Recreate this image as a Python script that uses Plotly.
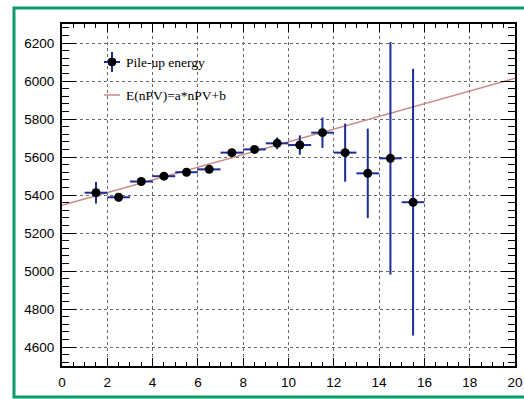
import plotly.graph_objects as go

# ---- data ----
npv = [1.5, 2.5, 3.5, 4.5, 5.5, 6.5, 7.5, 8.5, 9.5, 10.5, 11.5, 12.5, 13.5, 14.5, 15.5]
energy = [5412, 5388, 5471, 5499, 5520, 5535, 5623, 5640, 5672, 5663, 5728, 5623, 5514, 5593, 5362]
energy_err = [57, 22, 14, 12, 12, 12, 12, 12, 31, 51, 80, 153, 235, 612, 702]
npv_err = [0.5] * len(npv)

fit_x = [0, 20]
fit_y = [5346, 6014]

x_ticks = [0, 2, 4, 6, 8, 10, 12, 14, 16, 18, 20]
y_ticks = [4600, 4800, 5000, 5200, 5400, 5600, 5800, 6000, 6200]

legend_labels = ["Pile-up energy", "E(nPV)=a*nPV+b"]

# ---- styling ----
W, H = 524, 399
L, R, T, B = 62, 9, 24, 33
PW, PH = W - L - R, H - T - B
ERR_COLOR = "#1c2d9a"
FIT_COLOR = "#c98a86"
GREEN = "#0b9b6c"


def px(xp):
    return (xp - L) / PW


def py(yp):
    return 1 - (yp - T) / PH


fig = go.Figure()

fig.add_trace(go.Scatter(
    x=fit_x, y=fit_y, mode="lines",
    line=dict(color=FIT_COLOR, width=1.5),
    showlegend=False, hoverinfo="skip",
))

fig.add_trace(go.Scatter(
    x=npv, y=energy, mode="markers",
    marker=dict(color="black", size=9),
    error_x=dict(type="data", array=npv_err, color=ERR_COLOR, thickness=2, width=0),
    error_y=dict(type="data", array=energy_err, color=ERR_COLOR, thickness=2, width=0),
    showlegend=False,
))

axis_font = dict(family="Liberation Sans, Arial, sans-serif", size=13.5, color="black")

fig.update_xaxes(
    range=[0, 20], tickvals=x_ticks, ticktext=[str(v) for v in x_ticks],
    showline=True, linecolor="black", linewidth=2, mirror="allticks",
    ticks="inside", ticklen=8, tickwidth=1, tickcolor="black",
    minor=dict(ticks="inside", ticklen=4, dtick=0.5, tickcolor="black", showgrid=False),
    showgrid=True, gridcolor="#666666", griddash="dot", gridwidth=1,
    zeroline=False, tickfont=axis_font, ticklabelstandoff=3, automargin=False,
)
fig.update_yaxes(
    range=[4500, 6300], tickvals=y_ticks, ticktext=[str(v) for v in y_ticks],
    showline=True, linecolor="black", linewidth=2, mirror="allticks",
    ticks="inside", ticklen=14, tickwidth=1, tickcolor="black",
    minor=dict(ticks="inside", ticklen=7, dtick=40, tick0=4600, tickcolor="black", showgrid=False),
    showgrid=True, gridcolor="#666666", griddash="dot", gridwidth=1,
    zeroline=False, tickfont=axis_font, ticklabelstandoff=3, automargin=False,
)

shapes = []
# outer green frame (right edge lies outside the picture)
shapes.append(dict(type="rect", xref="paper", yref="paper",
                   x0=px(14), x1=px(528), y0=py(397), y1=py(8),
                   line=dict(color=GREEN, width=3), layer="below"))
# legend: marker with error cross
shapes.append(dict(type="line", xref="paper", yref="paper",
                   x0=px(104), x1=px(120), y0=py(62), y1=py(62),
                   line=dict(color=ERR_COLOR, width=2)))
shapes.append(dict(type="line", xref="paper", yref="paper",
                   x0=px(112), x1=px(112), y0=py(52), y1=py(72),
                   line=dict(color=ERR_COLOR, width=2)))
shapes.append(dict(type="circle", xref="paper", yref="paper",
                   x0=px(108), x1=px(116), y0=py(66), y1=py(58),
                   fillcolor="black", line=dict(color="black", width=1)))
# legend: fit line
shapes.append(dict(type="line", xref="paper", yref="paper",
                   x0=px(104), x1=px(120), y0=py(95), y1=py(95),
                   line=dict(color=FIT_COLOR, width=1.5)))

legend_font = dict(family="Liberation Serif, Times New Roman, serif", size=13.5, color="black")
annotations = [
    dict(xref="paper", yref="paper", x=px(124), y=py(62), text=legend_labels[0],
         showarrow=False, xanchor="left", yanchor="middle", font=legend_font),
    dict(xref="paper", yref="paper", x=px(124), y=py(95), text=legend_labels[1],
         showarrow=False, xanchor="left", yanchor="middle", font=legend_font),
]

fig.update_layout(
    width=W, height=H,
    margin=dict(l=L, r=R, t=T, b=B, autoexpand=False),
    paper_bgcolor="white", plot_bgcolor="white",
    shapes=shapes, annotations=annotations,
    showlegend=False,
)

fig.write_html("out.html")
